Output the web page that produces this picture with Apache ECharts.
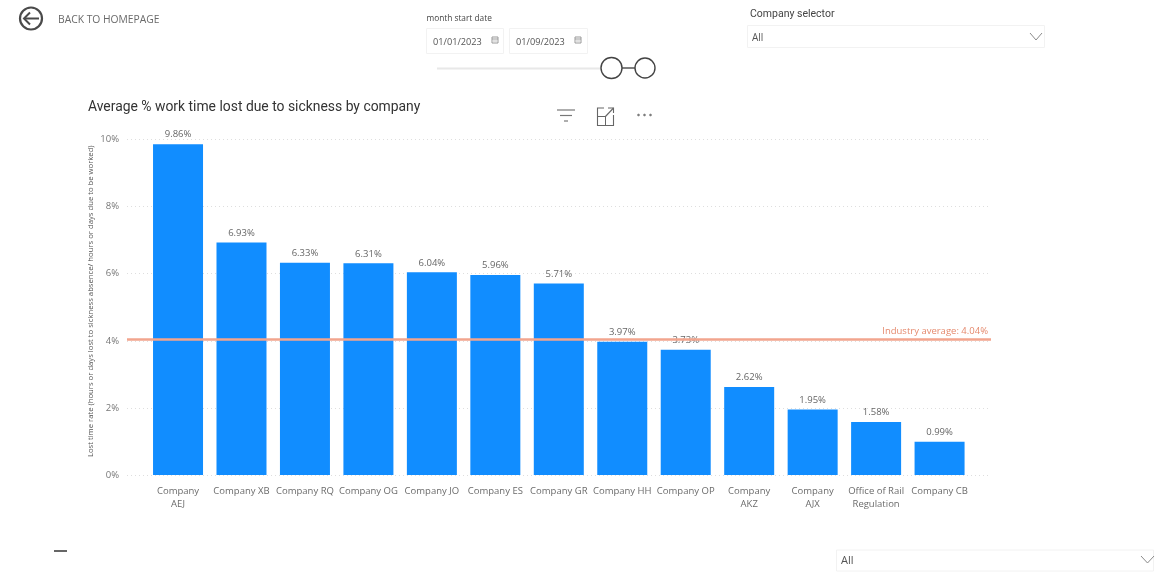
<!DOCTYPE html>
<html><head><meta charset="utf-8">
<style>html,body{margin:0;padding:0;background:#fff}#c{width:1166px;height:572px}</style>
<script src="https://cdn.jsdelivr.net/npm/echarts@6/dist/echarts.min.js"></script>
</head><body><div id="c"></div>
<script>
const categories = ['Company\nAEJ','Company XB','Company RQ','Company OG','Company JO','Company ES','Company GR','Company HH','Company OP','Company\nAKZ','Company\nAJX','Office of Rail\nRegulation','Company CB'];
const sicknessValues = [9.86,6.93,6.33,6.31,6.04,5.96,5.71,3.97,3.73,2.62,1.95,1.58,0.99];
const industryAverage = 4.04;
const yTicks = [0,2,4,6,8,10];
const titleText = 'Average % work time lost due to sickness by company';
const yAxisName = 'Lost time rate (hours or days lost to sickness absence/ hours or days due to be worked)';

const FONT = '"Open Sans","Noto Sans",sans-serif';
const DIN = 'Roboto,"Noto Sans",sans-serif';
const txt = (x,y,text,size,fill,family,extra) => ({type:'text',x,y,silent:true,style:Object.assign({text,fontSize:size,fill,fontFamily:family||FONT,verticalAlign:'middle',textVerticalAlign:'middle'},extra||{})});
const rect = (x,y,w,h,stroke,fill) => ({type:'rect',shape:{x,y,width:w,height:h},silent:true,style:{stroke:stroke||'#f0f0f0',fill:fill||'#fff',lineWidth:1}});
const line = (x1,y1,x2,y2,stroke,w) => ({type:'line',shape:{x1,y1,x2,y2},silent:true,style:{stroke,lineWidth:w||1,fill:'none'}});
const circ = (cx,cy,r,stroke,w,fill) => ({type:'circle',shape:{cx,cy,r},silent:true,style:{stroke,lineWidth:w,fill:fill||'none'}});
const calendar = (x,y) => [rect(x,y,6,6,'#999','#fff'),line(x,y+2,x+6,y+2,'#999',1),line(x+1,y+4,x+5,y+4,'#c5c5c5',1)];
const chevron = (x,y,w,h,c) => ({type:'polyline',shape:{points:[[x,y],[x+w/2,y+h],[x+w,y]]},silent:true,style:{stroke:c,lineWidth:1,fill:'none'}});

const chart = echarts.init(document.getElementById('c'),null,{renderer:'canvas'});
chart.setOption({
  animation:false,
  backgroundColor:'#fff',
  textStyle:{fontFamily:FONT},
  grid:[
    {left:146.3,top:139.5,width:825,height:335.5},
    {left:127,top:139.5,width:864,height:335.5}
  ],
  xAxis:[
    {type:'category',gridIndex:0,data:categories,axisLine:{show:false},axisTick:{show:false},
     axisLabel:{interval:0,color:'#6b6b6b',fontSize:9.5,lineHeight:12.5,margin:10.5,fontFamily:FONT}},
    {type:'value',gridIndex:1,min:0,max:1,show:false}
  ],
  yAxis:[
    {type:'value',gridIndex:0,min:0,max:10,interval:2,axisLine:{show:false},axisTick:{show:false},splitLine:{show:false},
     axisLabel:{show:false}},
    {type:'value',gridIndex:1,min:yTicks[0],max:yTicks[yTicks.length-1],interval:2,axisLine:{show:false},axisTick:{show:false},
     splitLine:{show:true,lineStyle:{color:'#dedede',type:[1,3],width:1}},
     axisLabel:{color:'#777',fontSize:9.5,margin:8,fontFamily:FONT,formatter:'{value}%'},
     name:yAxisName,nameLocation:'middle',nameGap:32,nameRotate:90,nameMoveOverlap:false,
     nameTextStyle:{color:'#555',fontSize:7.7,fontFamily:FONT,padding:[0,0,0,12]}}
  ],
  series:[
    {type:'bar',xAxisIndex:0,yAxisIndex:0,data:sicknessValues,barWidth:50,z:2,
     itemStyle:{color:'#118DFF'},
     label:{show:true,position:'top',distance:4.5,color:'#666',fontSize:9.5,fontFamily:FONT,formatter:p=>p.value.toFixed(2)+'%'}},
    {type:'line',xAxisIndex:1,yAxisIndex:1,data:[],z:3,
     markLine:{silent:true,symbol:'none',z:3,
       lineStyle:{color:'#F2A58E',type:'solid',width:2.5},
       label:{show:true,position:'insideEndTop',formatter:'Industry average: '+industryAverage.toFixed(2)+'%',color:'#E58A6E',fontSize:9.5,fontFamily:FONT,distance:3},
       data:[{yAxis:industryAverage}]}}
  ],
  graphic:[
    circ(31,18.5,11,'#4a4a4a',2.2),
    line(24,18.5,39,18.5,'#4a4a4a',2),
    {type:'polyline',shape:{points:[[30,12.5],[24,18.5],[30,24.5]]},silent:true,style:{stroke:'#4a4a4a',lineWidth:2,fill:'none'}},
    txt(58,20,'BACK TO HOMEPAGE',10.3,'#6a6a6a',FONT),
    txt(426.5,19,'month start date',8.3,'#444',FONT),
    rect(426.5,28.5,77,25,'#f2f2f2'),rect(509.5,28.5,78,25,'#f2f2f2'),
    txt(433,42.5,'01/01/2023',9.2,'#555',FONT),txt(516,42.5,'01/09/2023',9.2,'#555',FONT),
    ...calendar(492,37),...calendar(575,37),
    line(437,68.5,601,68.5,'#e8e8e8',2),
    line(622,68,635,68,'#555',1.5),
    circ(611.5,68,10.5,'#444',1.4,'#fff'),circ(645,68,10,'#444',1.4,'#fff'),
    txt(750,14.5,'Company selector',10.5,'#444',DIN,{fontWeight:400}),
    rect(747.5,25.5,297,22,'#f2f2f2'),
    txt(752,38.5,'All',10,'#555',FONT),
    chevron(1030,33,12,7,'#8a8a8a'),
    txt(88,108,titleText,13.9,'#333',DIN,{fontWeight:400}),
    line(557,110,575,110,'#777',1.2),line(560,115.5,572,115.5,'#777',1.2),line(564,121,568,121,'#777',1.2),
    {type:'polyline',shape:{points:[[604,108],[597.5,108],[597.5,125.5],[613.5,125.5],[613.5,115]]},silent:true,style:{stroke:'#666',lineWidth:1.1,fill:'none'}},
    rect(597.5,116.5,8,9,'#666','none'),
    line(605,117,613.5,108,'#666',1.1),
    {type:'polyline',shape:{points:[[608,108],[613.5,108],[613.5,113]]},silent:true,style:{stroke:'#666',lineWidth:1.1,fill:'none'}},
    circ(638.5,115,1,'#777',0.6,'#777'),circ(644.5,115,1,'#777',0.6,'#777'),circ(650.5,115,1,'#777',0.6,'#777'),
    line(54,551,67,551,'#333',1.5),
    rect(836.5,550,317,21,'#f2f2f2'),
    txt(841,560.5,'All',11,'#555',FONT),
    chevron(1141,556,13,7,'#8a8a8a')
  ]
});
</script></body></html>
